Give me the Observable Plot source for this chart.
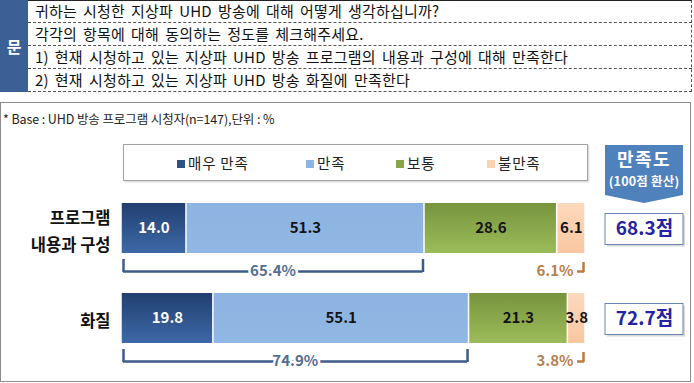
<!DOCTYPE html>
<html>
<head>
<meta charset="utf-8">
<script src="https://cdn.jsdelivr.net/npm/d3@7"></script>
<script src="https://cdn.jsdelivr.net/npm/@observablehq/plot@0.6"></script>
<style>
  html, body { margin: 0; padding: 0; background: #fff; }
  body { font-family: "Noto Sans CJK KR", "Noto Sans", sans-serif; color: #111; }
  #wrap { position: relative; width: 694px; height: 383px; overflow: hidden; }
  .abs { position: absolute; box-sizing: border-box; }
  #chart { position: absolute; left: 0; top: 0; z-index: 2; }
  .qrow { position: absolute; left: 28px; width: 664px; height: 23px; line-height: 22px; font-size: 15px;
          word-spacing: 2.5px; letter-spacing: 0.2px; padding-left: 7px; box-sizing: border-box; border-bottom: 1px dashed #555; white-space: nowrap; }
  .lg { position: absolute; top: 153px; font-size: 14.5px; letter-spacing: 0.8px; line-height: 19px; white-space: nowrap; color: #222; }
  .lg i { display: inline-block; width: 8px; height: 8px; margin-right: 3px; vertical-align: 1px; }
</style>
</head>
<body>
<div id="wrap"></div>
<script>
// ---- data ----
const questionLines = [
  "귀하는 시청한 지상파 UHD 방송에 대해 어떻게 생각하십니까?",
  "각각의 항목에 대해 동의하는 정도를 체크해주세요.",
  "1) 현재 시청하고 있는 지상파 UHD 방송 프로그램의 내용과 구성에 대해 만족한다",
  "2) 현재 시청하고 있는 지상파 UHD 방송 화질에 만족한다"
];
const baseNote = "* Base : UHD 방송 프로그램 시청자(n=147),단위 : %";
const categories = ["프로그램\n내용과 구성", "화질"];
const levels = ["매우 만족", "만족", "보통", "불만족"];
const valuesProgram = [14.0, 51.3, 28.6, 6.1];
const valuesQuality = [19.8, 55.1, 21.3, 3.8];
const topTwo = [65.4, 74.9];       // 만족 합계 label
const topTwoEnd = [65.3, 74.9];    // bracket extent
const bottomOne = [6.1, 3.8];
const scores = [68.3, 72.7];
const levelColors = ["#2f5187", "#8db4e2", "#86a648", "#fcd2b0"];

// ---- tables for the library ----
const seriesValues = [valuesProgram, valuesQuality];
const data = [];
categories.forEach((c, ci) => levels.forEach((l, li) => data.push({cat: c, level: l, value: seriesValues[ci][li]})));
const brackets = categories.map((c, i) => ({cat: c, top2: topTwo[i], end: topTwoEnd[i], bottom: bottomOne[i], score: scores[i]}));

const wrap = document.getElementById("wrap");
function add(html) { wrap.insertAdjacentHTML("beforeend", html); }

// question box
add(`<div class="abs" style="left:0;top:0;width:692px;height:92px;border-top:1px solid #222;border-right:1px dashed #555;"></div>`);
add(`<div class="abs" style="left:0;top:0;width:28px;height:92px;background:#3a6096;color:#fff;font-weight:bold;font-size:16px;display:flex;align-items:center;justify-content:center;">문</div>`);
questionLines.forEach((t, i) => add(`<div class="qrow" style="top:${i * 23}px">${t}</div>`));

// outer chart box
add(`<div class="abs" style="left:0;top:102px;width:691px;height:280px;border:1px solid #8c8c8c;"></div>`);
add(`<div class="abs" style="left:3px;top:109px;font-size:12.5px;letter-spacing:-0.1px;color:#222;white-space:nowrap;">${baseNote}</div>`);

// legend
add(`<div class="abs" style="left:123px;top:144px;width:465px;height:37px;border:1px solid #a3a3a3;box-shadow:1px 1px 2px #d0d0d0;"></div>`);
const legendX = [177, 306, 396, 487];
levels.forEach((l, i) => add(`<div class="lg" style="left:${legendX[i]}px"><i style="background:${levelColors[i]}"></i>${l}</div>`));

// badge
add(`<div class="abs" style="left:605px;top:145px;width:78px;height:58px;background:#4f81bd;clip-path:polygon(0 0,100% 0,100% 86%,50% 100%,0 86%);color:#fff;font-weight:bold;text-align:center;">
  <div style="font-size:18px;line-height:20px;margin-top:3px;letter-spacing:1.5px;">만족도</div>
  <div style="font-size:12.5px;line-height:15px;margin-top:5px;letter-spacing:0.2px;white-space:nowrap;">(100점 환산)</div></div>`);

const font = "'Noto Sans CJK KR', sans-serif";
const chart = Plot.plot({
  width: 694,
  height: 383,
  marginLeft: 121,
  marginRight: 109,
  marginTop: 0,
  marginBottom: 0,
  style: {background: "transparent", fontFamily: font, overflow: "visible"},
  x: {domain: [0, 100], axis: null},
  y: {domain: categories, range: [203, 343], paddingInner: 40 / 90, paddingOuter: 0, axis: null},
  color: {domain: levels, range: levels.map((l, i) => `url(#grad${i})`)},
  marks: [
    Plot.barX(data, Plot.stackX({x: "value", y: "cat", z: "level", fill: "level", insetLeft: 0.75, insetRight: 0.75})),
    Plot.text(data, Plot.stackX({x: "value", y: "cat", z: "level",
      text: d => d.value.toFixed(1),
      fill: d => d.level === levels[0] ? "#ffffff" : "#141414",
      fontSize: 15, fontWeight: "bold", letterSpacing: -1})),
    Plot.text(categories, {x: 0, y: d => d, text: d => d, textAnchor: "end", dx: -11,
      fontSize: 16.5, fontWeight: "bold", lineHeight: 1.64, letterSpacing: 0.8, fill: "#111"}),
    // top-2 bracket
    Plot.ruleY(brackets, {y: "cat", x1: 0, x2: "end", dy: 43, insetLeft: 2, insetRight: 1.5,
      stroke: "#3e5b8a", strokeWidth: 2.5}),
    Plot.tickX(brackets, {x: 0, y: "cat", dx: 2, dy: 19, insetTop: 37, stroke: "#3e5b8a", strokeWidth: 2.5}),
    Plot.tickX(brackets, {x: "end", y: "cat", dx: -1.5, dy: 19, insetTop: 37, stroke: "#3e5b8a", strokeWidth: 2.5}),
    Plot.text(brackets, {x: d => d.end / 2, y: "cat", dy: 43, text: d => d.top2.toFixed(1) + "%",
      fill: "#566d94", stroke: "white", strokeWidth: 5, paintOrder: "stroke",
      fontSize: 15, fontWeight: "bold", letterSpacing: -0.4}),
    // bottom bracket
    Plot.ruleY(brackets, {y: "cat", x1: 100, x2: 100, dy: 43, insetLeft: -8, insetRight: 1,
      stroke: "#c07a3e", strokeWidth: 2.5}),
    Plot.tickX(brackets, {x: 100, y: "cat", dx: -2, dy: 19, insetTop: 40, stroke: "#c07a3e", strokeWidth: 2.5}),
    Plot.text(brackets, {x: 100, y: "cat", dx: -12, dy: 43, textAnchor: "end",
      text: d => d.bottom.toFixed(1) + "%", fill: "#b8804e", fontSize: 15, fontWeight: "bold", letterSpacing: -0.4}),
    // score boxes
    Plot.barX(brackets, {x1: 100, x2: 100, y: "cat", dx: 2, dy: 2, insetLeft: 20, insetRight: -98,
      insetTop: 10.5, insetBottom: 8.5, fill: "#d8d8d8"}),
    Plot.barX(brackets, {x1: 100, x2: 100, y: "cat", insetLeft: 20, insetRight: -98,
      insetTop: 10.5, insetBottom: 8.5, fill: "white", stroke: "#6a86b2", strokeWidth: 1}),
    Plot.text(brackets, {x: 100, y: "cat", dx: 59, text: d => d.score.toFixed(1) + "점",
      fill: "#2323a3", fontSize: 19, fontWeight: "bold", letterSpacing: -0.6})
  ]
});
chart.id = "chart";

// gradients for the bar fills
const gradStops = [
  ["#213f70", "#3d69a7"],
  ["#8db3e2", "#91b7e4"],
  ["#77943d", "#9cbc5a"],
  ["#fcd9bc", "#f9c7a0"]
];
const defs = d3.select(chart).insert("defs", ":first-child");
gradStops.forEach((s, i) => {
  const g = defs.append("linearGradient").attr("id", `grad${i}`).attr("x1", 0).attr("y1", 0).attr("x2", 0).attr("y2", 1);
  g.append("stop").attr("offset", "0%").attr("stop-color", s[0]);
  g.append("stop").attr("offset", "100%").attr("stop-color", s[1]);
});
wrap.appendChild(chart);
</script>
</body>
</html>
